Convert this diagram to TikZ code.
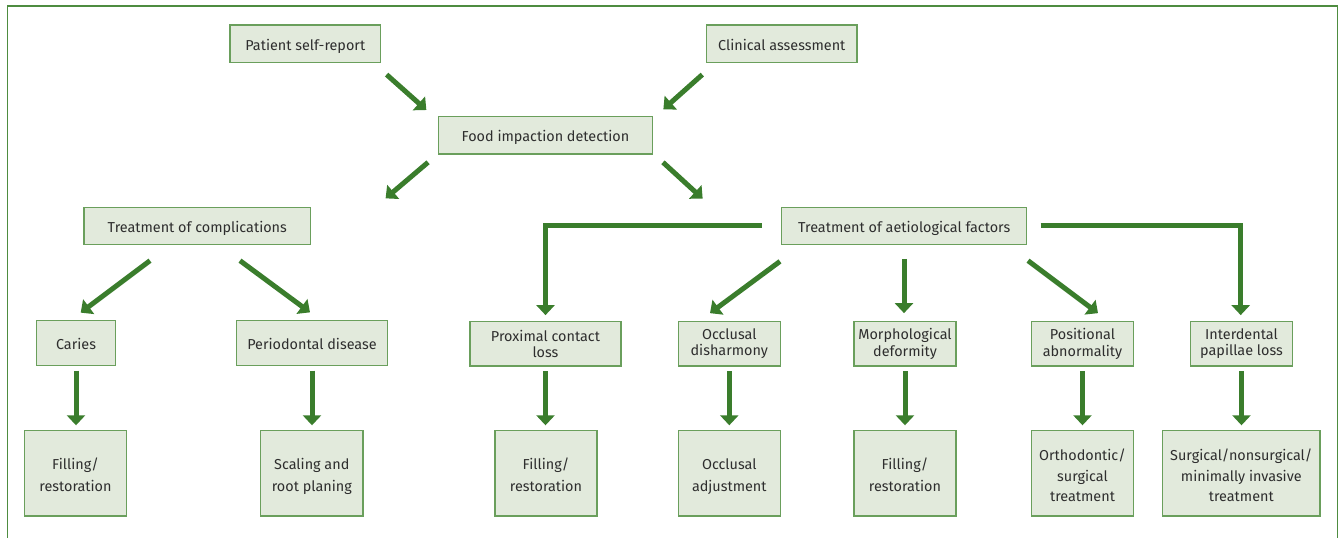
\documentclass[tikz,border=0pt]{standalone}
\usepackage{fontspec}
\setmainfont{Fira Sans}
\usetikzlibrary{arrows.meta}
\definecolor{boxfill}{HTML}{E2EADC}
\definecolor{boxline}{HTML}{6A9F5C}
\definecolor{arrgreen}{HTML}{3A7D2C}
\definecolor{txt}{HTML}{2E2E2E}
\definecolor{framegreen}{HTML}{4E8C40}
\newcommand{\lowtext}[2]{\raisebox{#1}[\height][\depth]{\begin{tabular}{@{}c@{}}#2\end{tabular}}}
\begin{document}
\begin{tikzpicture}[x=1pt,y=-1pt,
  box/.style={draw=boxline, fill=boxfill, line width=1.3pt, inner sep=0pt, align=center, text=txt, font=\fontsize{14.4}{16.5}\selectfont},
  onebox/.style={box, text height=13pt, text depth=0.6pt},
  midbox/.style={box, minimum height=44.6pt},
  botbox/.style={box, minimum height=85.3pt, minimum width=102.2pt, font=\fontsize{14.4}{21.5}\selectfont},
  arr/.style={draw=arrgreen, line width=5pt, -{Triangle[width=18pt,length=10pt]}},
  framestyle/.style={draw=framegreen, line width=1.5pt}
]
\useasboundingbox (0,0) rectangle (1344,538);
\draw[framestyle] (7.3,545) -- (7.3,6) -- (1337.3,6) -- (1337.3,545);

% top
\node[onebox, minimum width=150.7pt, minimum height=37.7pt] (ps) at (305.3,43.8) {Patient self-report};
\node[onebox, minimum width=150.3pt, minimum height=37.7pt] (ca) at (781.8,43.8) {Clinical assessment};
\node[onebox, minimum width=214.4pt, minimum height=37.3pt] (fid) at (545.5,135.3) {Food impaction detection};
\node[onebox, minimum width=226.7pt, minimum height=37pt] (tc) at (197.3,225.8) {Treatment of complications};
\node[onebox, minimum width=245pt, minimum height=37pt] (ta) at (904.2,225.8) {Treatment of aetiological factors};

% middle
\node[midbox, onebox, minimum width=78.6pt] (car) at (76,343) {Caries};
\node[midbox, onebox, minimum width=150.6pt] (per) at (312,343) {Periodontal disease};
\node[midbox, minimum width=151pt] (pcl) at (545.5,343.8) {Proximal contact\\loss};
\node[midbox, minimum width=102pt] (occ) at (729.3,343.8) {Occlusal\\disharmony};
\node[midbox, minimum width=102pt] (mor) at (905,343.8) {Morphological\\deformity};
\node[midbox, minimum width=101.6pt] (pos) at (1082.5,343.8) {Positional\\abnormality};
\node[midbox, minimum width=101.6pt] (idl) at (1241.5,343.8) {Interdental\\papillae loss};

% bottom
\node[botbox] (f1) at (75.5,473.3) {\lowtext{-3pt}{Filling/\\restoration}};
\node[botbox] (sc) at (311.8,473.3) {\lowtext{-3pt}{Scaling and\\root planing}};
\node[botbox] (f2) at (546,473.3) {\lowtext{-3pt}{Filling/\\restoration}};
\node[botbox] (oa) at (729.3,473.3) {\lowtext{-3pt}{Occlusal\\adjustment}};
\node[botbox] (f3) at (905,473.3) {\lowtext{-3pt}{Filling/\\restoration}};
\node[botbox] (ot) at (1082.5,473.3) {\lowtext{-3.5pt}{Orthodontic/\\[-1pt]surgical\\[-1pt]treatment}};
\node[botbox, minimum width=157.3pt] (su) at (1241.3,473.3) {\lowtext{-3.5pt}{Surgical/nonsurgical/\\[-1pt]minimally invasive\\[-1pt]treatment}};

% diagonal arrows
\draw[arr] ([shift={(5.3,11.3)}]ps.south east) -- ([shift={(-11.3,-6)}]fid.north west);
\draw[arr] ([shift={(-3.7,11.3)}]ca.south west) -- ([shift={(10,-6.7)}]fid.north east);
\draw[arr] ([shift={(-9.6,7.7)}]fid.south west) -- ([shift={(74.3,-8.3)}]tc.north east);
\draw[arr] ([shift={(9.6,7.7)}]fid.south east) -- ([shift={(-78.4,-8)}]ta.north west);
\draw[arr] ([shift={(-47.3,15.7)}]tc.south) -- ([shift={(4.7,-7.4)}]car.north);
\draw[arr] ([shift={(42.7,15.7)}]tc.south) -- ([shift={(-2,-7.7)}]per.north);
\draw[arr] ([shift={(-124.2,16.4)}]ta.south) -- ([shift={(-19.3,-7.7)}]occ.north);
\draw[arr] ([shift={(123.8,15.7)}]ta.south) -- ([shift={(15.5,-7.7)}]pos.north);
\draw[arr] ([shift={(-1,14)}]mor.north |- ta.south) -- ([shift={(-1,-7.7)}]mor.north);

% elbow arrows
\draw[arr] ([shift={(-19,0)}]ta.west) -| ([shift={(0,-5.7)}]pcl.north);
\draw[arr] ([shift={(13.3,0)}]ta.east) -| ([shift={(-0.8,-5.7)}]idl.north);

% vertical arrows
\foreach \a/\b in {car/f1, per/sc, pcl/f2, occ/oa, mor/f3, pos/ot, idl/su}{
  \draw[arr] ([shift={(0,4.7)}]\a.south) -- ([shift={(0,-4.7)}]\a.south |- \b.north);
}
\end{tikzpicture}
\end{document}
